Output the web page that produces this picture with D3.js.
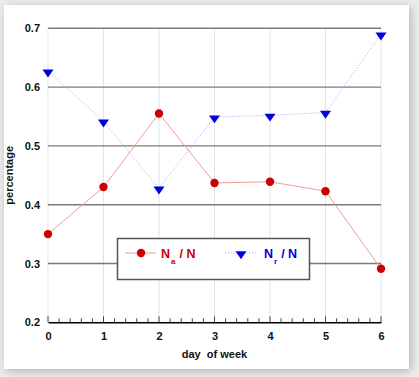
<!DOCTYPE html>
<html><head><meta charset="utf-8">
<script src="https://cdn.jsdelivr.net/npm/d3@7"></script>
<style>
html,body{margin:0;padding:0;background:#ececec;}
svg{display:block;}
</style></head>
<body>
<script>
const days = [0, 1, 2, 3, 4, 5, 6];
const naValues = [0.350, 0.430, 0.555, 0.437, 0.439, 0.423, 0.291];
const nrValues = [0.627, 0.542, 0.428, 0.549, 0.552, 0.557, 0.690];
const yTicks = [0.2, 0.3, 0.4, 0.5, 0.6, 0.7];
const xTicks = [0, 1, 2, 3, 4, 5, 6];

const W = 419, H = 377;
const svg = d3.select("body").append("svg").attr("width", W).attr("height", H);
const defs = svg.append("defs");
const f = defs.append("filter").attr("id", "sh").attr("x", "-10%").attr("y", "-10%").attr("width", "120%").attr("height", "120%");
f.append("feGaussianBlur").attr("in", "SourceAlpha").attr("stdDeviation", 4);
f.append("feOffset").attr("dx", 2).attr("dy", 2).attr("result", "b");
f.append("feComponentTransfer").append("feFuncA").attr("type", "linear").attr("slope", 0.25);
const m = f.append("feMerge"); m.append("feMergeNode"); m.append("feMergeNode").attr("in", "SourceGraphic");
svg.append("rect").attr("x", 4).attr("y", 5).attr("width", 405).attr("height", 364).attr("fill", "#fff").attr("filter", "url(#sh)");

const x = d3.scaleLinear().domain([0, 6]).range([48, 381]);
const y = d3.scaleLinear().domain([0.2, 0.7]).range([322.3, 28.3]);
const font = "'Liberation Sans', Arial, sans-serif";

// vertical grid
svg.append("g").selectAll("line").data(xTicks).join("line")
  .attr("x1", d => x(d)).attr("x2", d => x(d)).attr("y1", y(0.7)).attr("y2", y(0.2))
  .attr("stroke", "#c8c8c8").attr("stroke-width", 1).attr("stroke-dasharray", "1,1");
// horizontal grid
svg.append("g").selectAll("line").data(yTicks.filter(v => v > 0.2)).join("line")
  .attr("x1", x(0)).attr("x2", x(6)).attr("y1", d => y(d)).attr("y2", d => y(d))
  .attr("stroke", "#7a7a7a").attr("stroke-width", 1.4);

// x axis
const xAxis = d3.axisBottom(x).tickValues(xTicks).tickFormat(d3.format("d")).tickSize(0).tickPadding(10);
const gx = svg.append("g").attr("transform", `translate(0,${y(0.2)})`).call(xAxis);
gx.select(".domain").attr("stroke", "#000").attr("stroke-width", 1.4);
gx.selectAll("text").attr("font-family", font).attr("font-weight", "bold").attr("font-size", 11).attr("fill", "#111");
const minor = d3.range(0, 30.5, 1).map(i => i * 0.2);
svg.append("g").selectAll("line").data(minor).join("line")
  .attr("x1", d => x(d)).attr("x2", d => x(d)).attr("y1", y(0.2)).attr("y2", d => y(0.2) - (Math.abs(d - Math.round(d)) < 1e-6 ? 6 : 4))
  .attr("stroke", "#444").attr("stroke-width", 1);

// y axis
const yAxis = d3.axisLeft(y).tickValues(yTicks).tickFormat(d3.format(".1f")).tickSize(0).tickPadding(8);
const gy = svg.append("g").attr("transform", `translate(${x(0)},0)`).call(yAxis);
gy.select(".domain").remove();
gy.selectAll("text").attr("font-family", font).attr("font-weight", "bold").attr("font-size", 11).attr("fill", "#111");

// axis titles
svg.append("text").attr("x", (x(0) + x(6)) / 2).attr("y", 358).attr("text-anchor", "middle")
  .attr("font-family", font).attr("font-weight", "bold").attr("font-size", 11).attr("fill", "#111")
  .attr("xml:space", "preserve").text("day  of week");
svg.append("text").attr("transform", `translate(13,${(y(0.2) + y(0.7)) / 2}) rotate(-90)`).attr("text-anchor", "middle")
  .attr("font-family", font).attr("font-weight", "bold").attr("font-size", 11).attr("fill", "#111").text("percentage");

const red = "#cc0000", blue = "#0000dd";
const triangle = d3.symbol().type(d3.symbolTriangle).size(40);

// Na series
svg.append("path").datum(days).attr("fill", "none").attr("stroke", "#f29a9a").attr("stroke-width", 1)
  .attr("d", d3.line().x(d => x(d)).y((d, i) => y(naValues[i])));
svg.append("g").selectAll("circle").data(days).join("circle")
  .attr("cx", d => x(d)).attr("cy", (d, i) => y(naValues[i])).attr("r", 4.2).attr("fill", red);

// Nr series
svg.append("path").datum(days).attr("fill", "none").attr("stroke", "#9b9bff").attr("stroke-width", 1).attr("stroke-dasharray", "1,2")
  .attr("d", d3.line().x(d => x(d)).y((d, i) => y(nrValues[i])));
svg.append("g").selectAll("path").data(days).join("path")
  .attr("d", triangle).attr("fill", blue)
  .attr("transform", (d, i) => `translate(${x(d)},${y(nrValues[i]) + 1}) rotate(180) scale(1.15,0.95)`);

// legend
const lg = svg.append("g");
lg.append("rect").attr("x", 117.5).attr("y", 238.5).attr("width", 192).attr("height", 41)
  .attr("fill", "#fff").attr("stroke", "#555").attr("stroke-width", 1.5);
lg.append("line").attr("x1", 125).attr("x2", 156).attr("y1", 253).attr("y2", 253).attr("stroke", "#f29a9a");
lg.append("circle").attr("cx", 141).attr("cy", 253).attr("r", 4.2).attr("fill", red);
const t1 = lg.append("text").attr("x", 161).attr("y", 258).attr("font-family", font).attr("font-weight", "bold").attr("font-size", 12.5).attr("fill", red);
t1.append("tspan").text("N");
t1.append("tspan").attr("font-size", 8).attr("dy", 6).attr("dx", 1).text("a");
t1.append("tspan").attr("dy", -6).attr("dx", 4).text("/ N");
lg.append("line").attr("x1", 225).attr("x2", 258).attr("y1", 253).attr("y2", 253).attr("stroke", "#9b9bff").attr("stroke-dasharray", "1,2");
lg.append("path").attr("d", triangle).attr("fill", blue).attr("transform", "translate(241,254) rotate(180) scale(1.15,0.95)");
const t2 = lg.append("text").attr("x", 264).attr("y", 258).attr("font-family", font).attr("font-weight", "bold").attr("font-size", 12.5).attr("fill", blue);
t2.append("tspan").text("N");
t2.append("tspan").attr("font-size", 8).attr("dy", 6).attr("dx", 1).text("r");
t2.append("tspan").attr("dy", -6).attr("dx", 4).text("/ N");
</script>
</body></html>
